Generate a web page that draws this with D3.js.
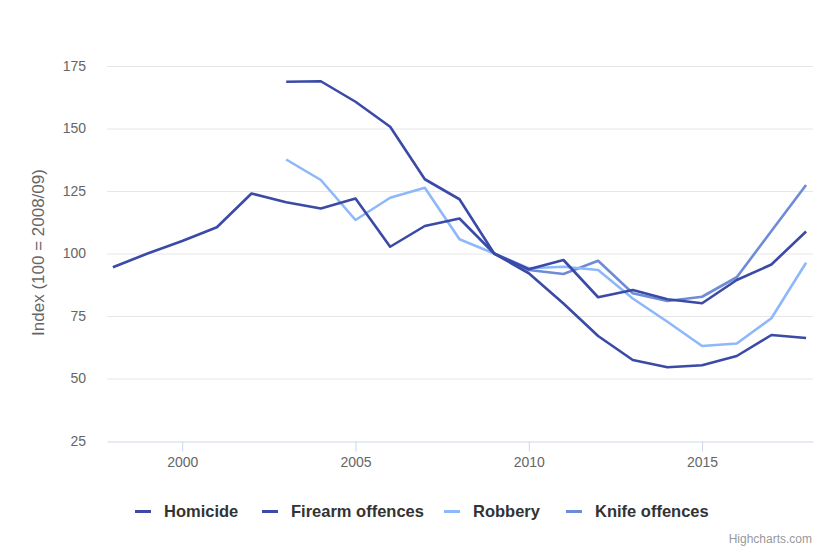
<!DOCTYPE html>
<html><head><meta charset="utf-8">
<script src="https://cdn.jsdelivr.net/npm/d3@7"></script>
<style>body{margin:0;background:#fff;}svg{display:block;font-family:"Liberation Sans",Arial,sans-serif;}</style>
</head><body><svg id="c" width="814" height="547"></svg>
<script>
const seriesNames = ["Homicide","Firearm offences","Robbery","Knife offences"];
const seriesColors = ["#3a4aa6","#3a4aa6","#8db8fa","#6d8bd7"];
const homicideYears = d3.range(1998, 2019);
const homicide = [94.5,100,105,110.5,124,120.5,118,122,102.7,111,114,100,93.7,97.4,82.5,85.4,81.7,80.1,89.4,95.6,108.8];
const firearmYears = d3.range(2003, 2019);
const firearm = [168.7,168.9,160.7,150.7,129.7,121.7,100,92.1,80,67,57.4,54.5,55.3,59,67.4,66.2];
const robberyYears = d3.range(2003, 2019);
const robbery = [137.6,129.4,113.4,122.3,126.3,105.7,100,94.1,94.7,93.4,82,72.7,63,64,74.1,96.3];
const knifeYears = d3.range(2009, 2019);
const knife = [100,93.4,91.8,97.1,84.1,81,82.7,90.5,109,127.4];
const yTicks = [25,50,75,100,125,150,175];
const xTicks = [2000,2005,2010,2015];
const yTitle = "Index (100 = 2008/09)";

const allYears = [homicideYears, firearmYears, robberyYears, knifeYears];
const allVals = [homicide, firearm, robbery, knife];

const svg = d3.select("#c");
const L = 107, R = 813, T = 66, B = 441;
const x = d3.scaleLinear().domain([1997.83, 2018.2]).range([L, R]);
const y = d3.scaleLinear().domain([25, 175]).range([B, T]);

// grid
svg.append("g").selectAll("line").data(yTicks.filter(d=>d>25)).join("line")
  .attr("x1", L).attr("x2", R).attr("y1", d=>y(d)+0.5).attr("y2", d=>y(d)+0.5)
  .attr("stroke", "#e6e6e6").attr("stroke-width", 1);

// y labels
const ya = svg.append("g").attr("transform", `translate(${L},0)`)
  .call(d3.axisLeft(y).tickValues(yTicks).tickSize(0).tickPadding(21));
ya.select(".domain").remove();
ya.selectAll("text").attr("fill", "#666").attr("font-size", 14).attr("font-family", "Liberation Sans, Arial, sans-serif");

// x axis
const xa = svg.append("g").attr("transform", `translate(0,${B+0.5})`)
  .call(d3.axisBottom(x).tickValues(xTicks).tickFormat(d3.format("d")).tickSize(10).tickPadding(6).tickSizeOuter(0));
xa.select(".domain").attr("stroke", "#ccd6eb");
xa.selectAll(".tick line").attr("stroke", "#ccd6eb");
xa.selectAll("text").attr("fill", "#666").attr("font-size", 14).attr("font-family", "Liberation Sans, Arial, sans-serif");

// y title
svg.append("text").attr("transform", `translate(44,${(T+B)/2 - 1}) rotate(-90)`)
  .attr("text-anchor", "middle").attr("fill", "#666").attr("font-size", 17).text(yTitle);

// lines
const line = d3.line().x(d=>x(d[0])).y(d=>y(d[1]));
const order = [3,2,1,0];
order.forEach(i => {
  const pts = allYears[i].map((yr, j) => [yr, allVals[i][j]]);
  svg.append("path").datum(pts).attr("d", line).attr("fill", "none")
    .attr("stroke", seriesColors[i]).attr("stroke-width", 2.6)
    .attr("stroke-linejoin", "round").attr("stroke-linecap", "butt");
});

// legend
const legX = [135, 262, 444, 566];
const lg = svg.append("g");
seriesNames.forEach((n, i) => {
  lg.append("line").attr("x1", legX[i]).attr("x2", legX[i]+16).attr("y1", 511.5).attr("y2", 511.5)
    .attr("stroke", seriesColors[i]).attr("stroke-width", 3);
  lg.append("text").attr("x", legX[i]+29).attr("y", 517).attr("font-size", 16.5).attr("font-weight", "bold")
    .attr("fill", "#333").text(n);
});

svg.append("text").attr("x", 812).attr("y", 543).attr("text-anchor", "end").attr("font-size", 12)
  .attr("fill", "#999").text("Highcharts.com");
</script></body></html>
